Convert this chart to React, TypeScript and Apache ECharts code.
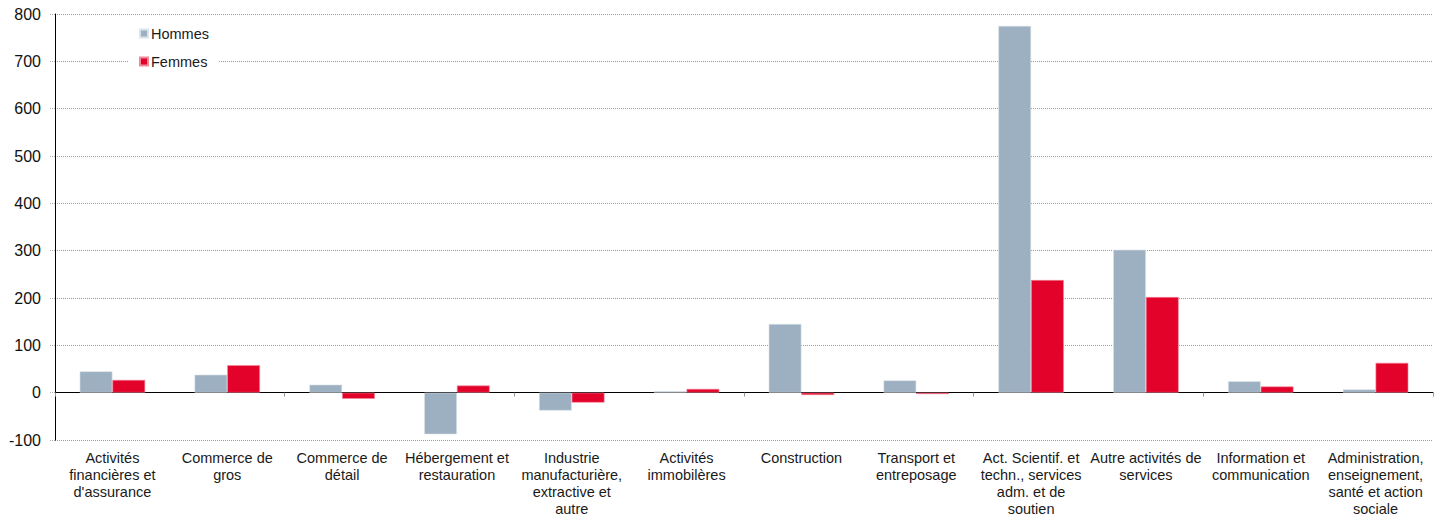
import React, { useEffect, useRef } from "react";
import * as echarts from "echarts";

const categories = [
  "Activités\nfinancières et\nd'assurance",
  "Commerce de\ngros",
  "Commerce de\ndétail",
  "Hébergement et\nrestauration",
  "Industrie\nmanufacturière,\nextractive et\nautre",
  "Activités\nimmobilères",
  "Construction",
  "Transport et\nentreposage",
  "Act. Scientif. et\ntechn., services\nadm. et de\nsoutien",
  "Autre activités de\nservices",
  "Information et\ncommunication",
  "Administration,\nenseignement,\nsanté et action\nsociale",
];

const hommes = [45, 38, 17, -88, -38, 3, 145, 26, 775, 302, 24, 7];
const femmes = [27, 58, -13, 15, -21, 8, -5, -3, 238, 202, 13, 63];

const yMin = -100;
const yMax = 800;
const yInterval = 100;

const FONT = "'Liberation Sans', Arial, Helvetica, sans-serif";

export default function App() {
  const ref = useRef<HTMLDivElement>(null);
  useEffect(() => {
    if (!ref.current) return;
    const chart = echarts.init(ref.current, undefined, { renderer: "svg" });
    chart.setOption({
      animation: false,
      backgroundColor: "#ffffff",
      textStyle: { fontFamily: FONT },
      grid: { left: 55, right: 7, top: 14, bottom: 74, containLabel: false },
      legend: {
        orient: "vertical",
        left: 128,
        top: 24,
        itemWidth: 8,
        itemHeight: 8,
        itemGap: 13,
        padding: [2, 10, 2, 11],
        backgroundColor: "#ffffff",
        icon: "rect",
        textStyle: { fontFamily: FONT, fontSize: 14.5, color: "#1a1a1a", padding: [0, 0, 0, -2] },
        data: ["Hommes", "Femmes"],
      },
      xAxis: [
        {
          type: "category",
          data: categories,
          position: "bottom",
          axisLine: { show: false, onZero: false },
          axisTick: { show: false },
          axisLabel: {
            interval: 0,
            fontFamily: FONT,
            fontSize: 14.5,
            color: "#1a1a1a",
            lineHeight: 17,
            margin: 9,
          },
          splitLine: { show: false },
        },
        {
          type: "category",
          data: categories,
          position: "bottom",
          axisLine: { show: true, onZero: true, lineStyle: { color: "#000000", width: 1 } },
          axisTick: { show: true, length: 4, inside: false, lineStyle: { color: "#999999" } },
          axisLabel: { show: false },
          splitLine: { show: false },
        },
      ],
      yAxis: {
        type: "value",
        min: yMin,
        max: yMax,
        interval: yInterval,
        axisLine: { show: true, lineStyle: { color: "#000000", width: 1 } },
        axisTick: { show: true, length: 5, lineStyle: { color: "#aaaaaa", type: "dotted" } },
        axisLabel: { fontFamily: FONT, fontSize: 16, color: "#111111", margin: 14 },
        splitLine: { show: true, lineStyle: { color: "#9a9a9a", type: "dotted", width: 1 } },
      },
      series: [
        {
          name: "Hommes",
          type: "bar",
          data: hommes,
          barGap: "0%",
          barCategoryGap: "43%",
          itemStyle: { color: "#9cb0c1", borderColor: "#dbe3ea", borderWidth: 0.6 },
        },
        {
          name: "Femmes",
          type: "bar",
          data: femmes,
          barGap: "0%",
          barCategoryGap: "43%",
          itemStyle: { color: "#e3032a", borderColor: "#f08a9b", borderWidth: 0.6 },
        },
      ],
    });
    return () => chart.dispose();
  }, []);
  return (
    <div
      ref={ref}
      style={{ position: "fixed", left: 0, top: 0, width: 1440, height: 517 }}
    />
  );
}
